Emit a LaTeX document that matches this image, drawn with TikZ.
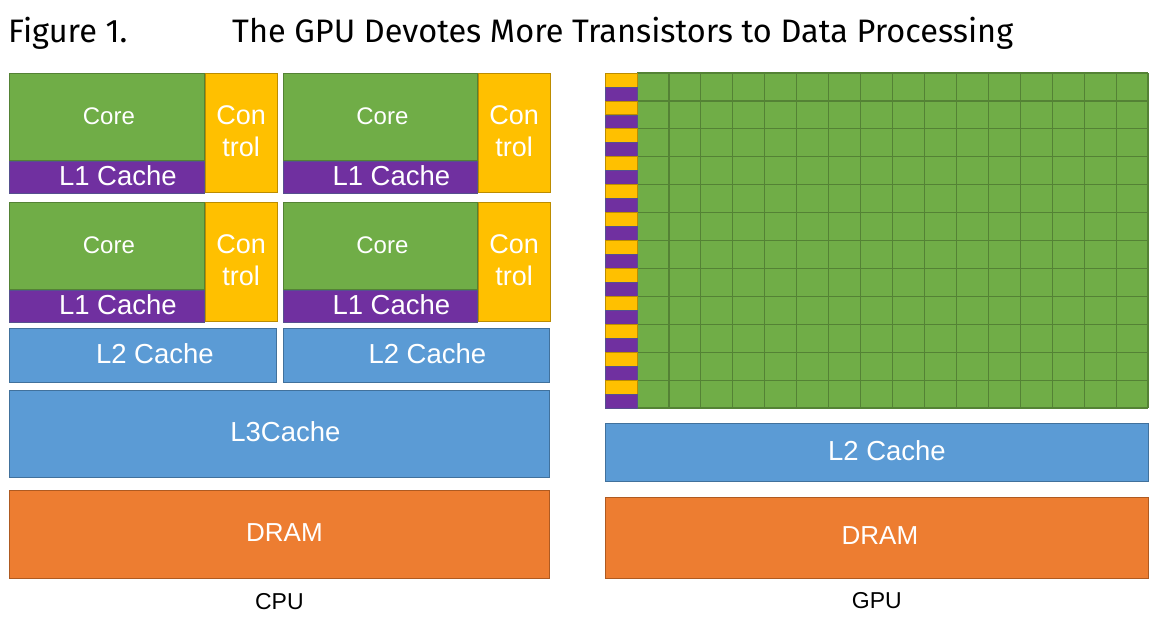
\documentclass[tikz,border=0pt]{standalone}
\usepackage{fontspec}
\setmainfont{Liberation Sans}
\newfontfamily\titlefont{Fira Sans}
\usetikzlibrary{positioning}

\definecolor{coregreen}{HTML}{70AD47}
\definecolor{coreedge}{HTML}{548235}
\definecolor{ctrlyellow}{HTML}{FFC000}
\definecolor{ctrledge}{HTML}{BC8C00}
\definecolor{l1purple}{HTML}{7030A0}
\definecolor{l1edge}{HTML}{56508F}
\definecolor{cacheblue}{HTML}{5B9BD5}
\definecolor{cacheedge}{HTML}{41719C}
\definecolor{dramorange}{HTML}{ED7D31}
\definecolor{dramedge}{HTML}{AE5A21}

\begin{document}
\begin{tikzpicture}[x=1pt, y=-1pt,
    blk/.style={draw, line width=0.8pt, inner sep=0pt, anchor=north west, text=white},
    corebox/.style={blk, fill=coregreen, draw=coreedge,
        label={[text=white, font=\fontsize{24}{28}\selectfont, xshift=2pt, yshift=1pt]center:Core}},
    l1box/.style={blk, fill=l1purple, draw=l1edge},
    ctrlbox/.style={blk, fill=ctrlyellow, draw=ctrledge,
        label={[text=white, align=center, font=\fontsize{27}{32}\selectfont, yshift=1.5pt]center:Con\\trol}},
    cachebox/.style={blk, fill=cacheblue, draw=cacheedge},
    drambox/.style={blk, fill=dramorange, draw=dramedge},
    boxtext/.style={text=white, font=\fontsize{27.5}{33}\selectfont, yshift=2pt},
    caption/.style={font=\fontsize{23}{28}\selectfont},
    gridline/.style={draw=coreedge, line width=1.2pt}]

  \useasboundingbox (0,0) rectangle (1155,627);

  % title
  \node[anchor=base west, inner sep=0pt, font=\titlefont\fontsize{32.5}{38}\selectfont]
    (fig) at (8,42) {Figure 1.};
  \node[anchor=base west, inner sep=0pt, font=\titlefont\fontsize{32.5}{38}\selectfont]
    (title) at (232,42) {The GPU Devotes More Transistors to Data Processing};

  % CPU cores
  \foreach \n/\cx/\cy/\cw in {a/9/73/195, b/283/73/194, c/9/202/195, d/283/202/194} {
    \node[corebox, minimum width=\cw pt, minimum height=87pt] (core-\n) at (\cx,\cy) {};
    \node[l1box, minimum width=\cw pt, minimum height=32pt,
      below=0pt of core-\n.south west, anchor=north west,
      label={[boxtext, xshift=11pt]center:L1 Cache}] (l1-\n) {};
    \node[ctrlbox, minimum width=72pt, minimum height=119pt,
      right=0pt of core-\n.north east, anchor=north west] (ctrl-\n) {};
  }

  % CPU caches and memory
  \node[cachebox, minimum width=267pt, minimum height=54pt,
    label={[boxtext, xshift=12pt]center:L2 Cache}] (l2-a) at (9,328) {};
  \node[cachebox, minimum width=266pt, minimum height=54pt,
    label={[boxtext, xshift=11pt]center:L2 Cache}] (l2-b) at (283,328) {};
  \node[cachebox, minimum width=540pt, minimum height=87pt,
    label={[boxtext, xshift=6pt]center:L3Cache}] (l3) at (9,390) {};
  \node[drambox, minimum width=540pt, minimum height=88pt,
    label={[boxtext, font=\fontsize{26}{31}\selectfont, xshift=5pt]center:DRAM}]
    (cpu-dram) at (9,490) {};
  \node[caption, below=11pt of cpu-dram] (cpu) {CPU};

  % GPU grid
  \fill[coregreen] (637,73) rectangle (1148,408);
  \foreach \c in {0,...,16}
    \draw[gridline] (637+\c*31.94,73) -- ++(0,335);
  \foreach \r in {0,...,12}
    \draw[gridline] (637,73+\r*27.92) -- ++(511,0);
  \foreach \r in {0,...,11} {
    \draw[fill=ctrlyellow, draw=ctrledge, line width=0.8pt]
      (605,73+\r*27.92) rectangle ++(32,13.96);
    \draw[fill=l1purple, draw=l1edge, line width=0.8pt]
      (605,87+\r*27.92) rectangle ++(32,13.96);
  }

  % GPU cache and memory
  \node[cachebox, minimum width=543pt, minimum height=58pt,
    label={[boxtext, xshift=10pt]center:L2 Cache}] (gpu-l2) at (605,423) {};
  \node[drambox, minimum width=543pt, minimum height=81pt,
    label={[boxtext, font=\fontsize{26}{31}\selectfont, xshift=3pt]center:DRAM}]
    (gpu-dram) at (605,497) {};
  \node[caption, below=10pt of gpu-dram] (gpu) {GPU};
\end{tikzpicture}
\end{document}
